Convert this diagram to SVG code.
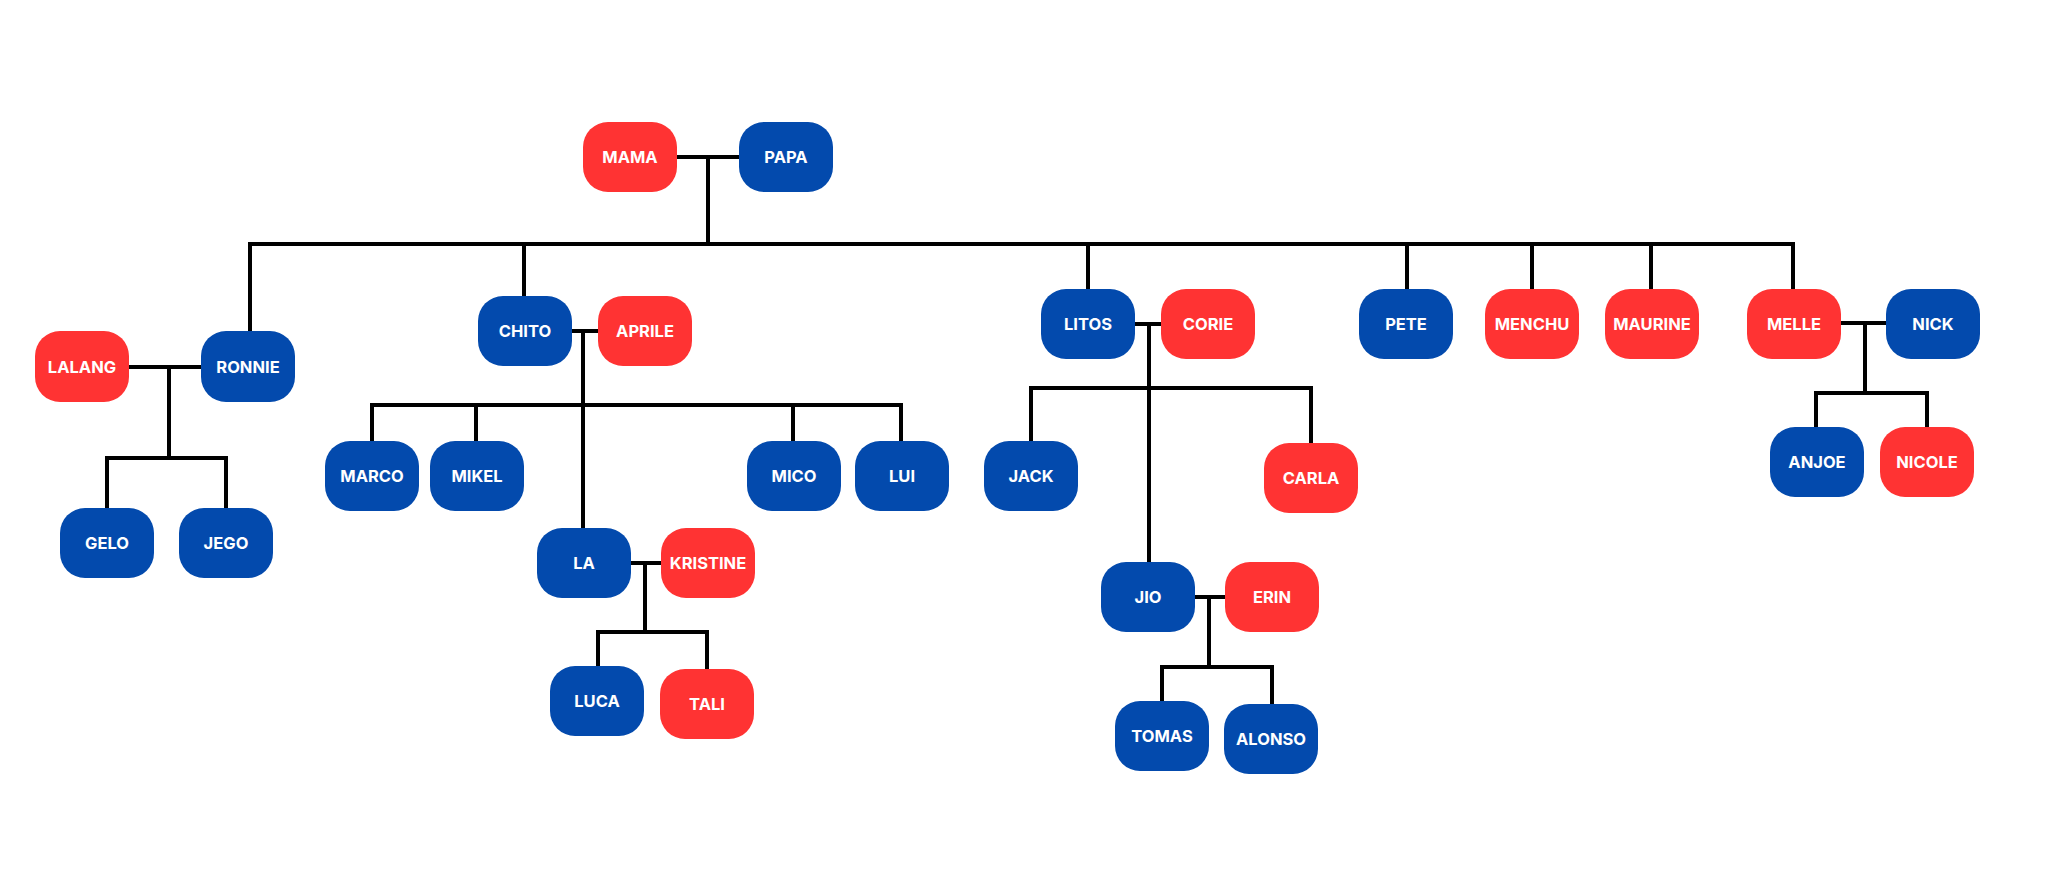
<svg xmlns="http://www.w3.org/2000/svg" width="2047" height="895" viewBox="0 0 2047 895">
  <style>
    .f { fill: #ff3333; }
    .m { fill: #034aad; }
    .lbl { font-family: Inter, "Liberation Sans", sans-serif; font-weight: 700; font-size: 16.5px; fill: #ffffff; text-anchor: middle; }
    .ln { stroke: #000000; stroke-width: 4; fill: none; stroke-linecap: square; }
  </style>
  <rect width="2047" height="895" fill="#ffffff"/>

  <!-- family lines -->
  <g id="connectors" class="ln">
    <!-- MAMA + PAPA -->
    <path d="M677 157H739M708 157V244"/>
    <path d="M250 244H1793"/>
    <path d="M250 244V331M524 244V296M1088 244V288M1407 244V289M1532 244V289M1651 244V289M1793 244V289"/>
    <!-- LALANG + RONNIE -->
    <path d="M129 367H201M169 367V458M107 458H226M107 458V508M226 458V508"/>
    <!-- CHITO + APRILE -->
    <path d="M572 331H598M583 331V528M372 405H901M372 405V441M476 405V441M793 405V441M901 405V441"/>
    <!-- LA + KRISTINE -->
    <path d="M630 563H661M645 563V632M598 632H707M598 632V666M707 632V669"/>
    <!-- LITOS + CORIE -->
    <path d="M1136 324H1161M1149 324V562M1031 388H1311M1031 388V441M1311 388V443"/>
    <!-- JIO + ERIN -->
    <path d="M1196 597H1225M1209 597V667M1162 667H1272M1162 667V701M1272 667V704"/>
    <!-- MELLE + NICK -->
    <path d="M1841 323H1886M1865 323V393M1816 393H1927M1816 393V427M1927 393V427"/>
  </g>

  <g id="mama"><rect class="f" x="583" y="122" width="94" height="70" rx="25"/><text class="lbl" x="630" y="163">MAMA</text></g>
  <g id="papa"><rect class="m" x="739" y="122" width="94" height="70" rx="25"/><text class="lbl" x="786" y="163">PAPA</text></g>

  <g id="lalang"><rect class="f" x="35" y="331" width="94" height="71" rx="25"/><text class="lbl" x="82" y="373">LALANG</text></g>
  <g id="ronnie"><rect class="m" x="201" y="331" width="94" height="71" rx="25"/><text class="lbl" x="248" y="373">RONNIE</text></g>
  <g id="gelo"><rect class="m" x="60" y="508" width="94" height="70" rx="25"/><text class="lbl" x="107" y="549">GELO</text></g>
  <g id="jego"><rect class="m" x="179" y="508" width="94" height="70" rx="25"/><text class="lbl" x="226" y="549">JEGO</text></g>

  <g id="chito"><rect class="m" x="478" y="296" width="94" height="70" rx="25"/><text class="lbl" x="525" y="337">CHITO</text></g>
  <g id="aprile"><rect class="f" x="598" y="296" width="94" height="70" rx="25"/><text class="lbl" x="645" y="337">APRILE</text></g>
  <g id="marco"><rect class="m" x="325" y="441" width="94" height="70" rx="25"/><text class="lbl" x="372" y="482">MARCO</text></g>
  <g id="mikel"><rect class="m" x="430" y="441" width="94" height="70" rx="25"/><text class="lbl" x="477" y="482">MIKEL</text></g>
  <g id="mico"><rect class="m" x="747" y="441" width="94" height="70" rx="25"/><text class="lbl" x="794" y="482">MICO</text></g>
  <g id="lui"><rect class="m" x="855" y="441" width="94" height="70" rx="25"/><text class="lbl" x="902" y="482">LUI</text></g>
  <g id="la"><rect class="m" x="537" y="528" width="94" height="70" rx="25"/><text class="lbl" x="584" y="569">LA</text></g>
  <g id="kristine"><rect class="f" x="661" y="528" width="94" height="70" rx="25"/><text class="lbl" x="708" y="569">KRISTINE</text></g>
  <g id="luca"><rect class="m" x="550" y="666" width="94" height="70" rx="25"/><text class="lbl" x="597" y="707">LUCA</text></g>
  <g id="tali"><rect class="f" x="660" y="669" width="94" height="70" rx="25"/><text class="lbl" x="707" y="710">TALI</text></g>

  <g id="litos"><rect class="m" x="1041" y="289" width="94" height="70" rx="25"/><text class="lbl" x="1088" y="330">LITOS</text></g>
  <g id="corie"><rect class="f" x="1161" y="289" width="94" height="70" rx="25"/><text class="lbl" x="1208" y="330">CORIE</text></g>
  <g id="jack"><rect class="m" x="984" y="441" width="94" height="70" rx="25"/><text class="lbl" x="1031" y="482">JACK</text></g>
  <g id="carla"><rect class="f" x="1264" y="443" width="94" height="70" rx="25"/><text class="lbl" x="1311" y="484">CARLA</text></g>
  <g id="jio"><rect class="m" x="1101" y="562" width="94" height="70" rx="25"/><text class="lbl" x="1148" y="603">JIO</text></g>
  <g id="erin"><rect class="f" x="1225" y="562" width="94" height="70" rx="25"/><text class="lbl" x="1272" y="603">ERIN</text></g>
  <g id="tomas"><rect class="m" x="1115" y="701" width="94" height="70" rx="25"/><text class="lbl" x="1162" y="742">TOMAS</text></g>
  <g id="alonso"><rect class="m" x="1224" y="704" width="94" height="70" rx="25"/><text class="lbl" x="1271" y="745">ALONSO</text></g>

  <g id="pete"><rect class="m" x="1359" y="289" width="94" height="70" rx="25"/><text class="lbl" x="1406" y="330">PETE</text></g>
  <g id="menchu"><rect class="f" x="1485" y="289" width="94" height="70" rx="25"/><text class="lbl" x="1532" y="330">MENCHU</text></g>
  <g id="maurine"><rect class="f" x="1605" y="289" width="94" height="70" rx="25"/><text class="lbl" x="1652" y="330">MAURINE</text></g>
  <g id="melle"><rect class="f" x="1747" y="289" width="94" height="70" rx="25"/><text class="lbl" x="1794" y="330">MELLE</text></g>
  <g id="nick"><rect class="m" x="1886" y="289" width="94" height="70" rx="25"/><text class="lbl" x="1933" y="330">NICK</text></g>
  <g id="anjoe"><rect class="m" x="1770" y="427" width="94" height="70" rx="25"/><text class="lbl" x="1817" y="468">ANJOE</text></g>
  <g id="nicole"><rect class="f" x="1880" y="427" width="94" height="70" rx="25"/><text class="lbl" x="1927" y="468">NICOLE</text></g>
</svg>
